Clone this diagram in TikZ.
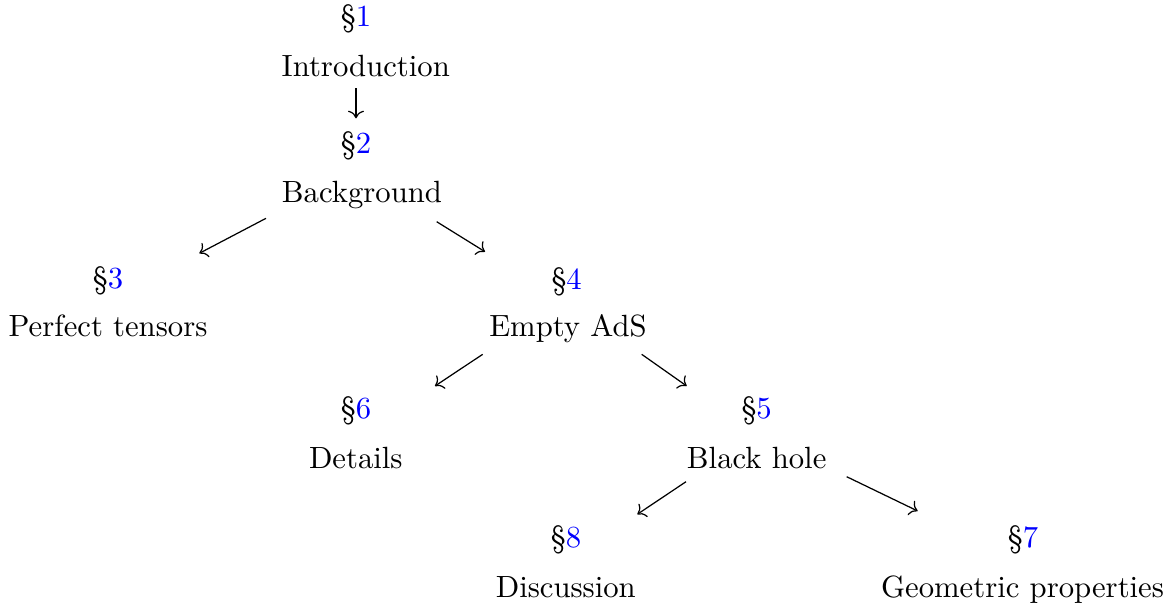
\documentclass[tikz,border=0pt]{standalone}
\usetikzlibrary{cd}
\begin{document}
\begin{tikzpicture}[x=0.3257pt,y=-0.3257pt,
  lbl/.style={anchor=base,inner sep=0pt},
  ttl/.style={anchor=base,inner sep=0pt},
  arr/.style={-cm to,line width=0.4pt}]
\useasboundingbox (0,0) rectangle (1175,604);
% section labels
\node[lbl] (s1) at (356,26) {\S\textcolor{blue}{1}};
\node[lbl] (s2) at (356,153) {\S\textcolor{blue}{2}};
\node[lbl] (s3) at (108,288.5) {\S\textcolor{blue}{3}};
\node[lbl] (s4) at (566.7,289) {\S\textcolor{blue}{4}};
\node[lbl] (s6) at (356,418.3) {\S\textcolor{blue}{6}};
\node[lbl] (s5) at (756.7,418.7) {\S\textcolor{blue}{5}};
\node[lbl] (s8) at (566,547) {\S\textcolor{blue}{8}};
\node[lbl] (s7) at (1023,547) {\S\textcolor{blue}{7}};
% titles
\node[ttl] (t1) at (365.8,76) {Introduction};
\node[ttl] (t2) at (362,202) {Background};
\node[ttl] (t3) at (108,336.5) {Perfect tensors};
\node[ttl] (t4) at (568,336.3) {Empty AdS};
\node[ttl] (t6) at (355.8,468) {Details};
\node[ttl] (t5) at (756.7,468) {Black hole};
\node[ttl] (t8) at (565.8,597) {Discussion};
\node[ttl] (t7) at (1022.5,597) {Geometric properties};
% arrows
\draw[arr] ([shift={(-9.8,12.3)}]t1.base) -- ([shift={(0,-34.7)}]s2.base);
\draw[arr] ([shift={(-96,16.3)}]t2.base) -- ([shift={(91.3,-35.2)}]s3.base);
\draw[arr] ([shift={(74.7,19.7)}]t2.base) -- ([shift={(-81.7,-37.3)}]s4.base);
\draw[arr] ([shift={(-85.3,18)}]t4.base) -- ([shift={(79,-32.3)}]s6.base);
\draw[arr] ([shift={(73.7,18)}]t4.base) -- ([shift={(-70,-32.7)}]s5.base);
\draw[arr] ([shift={(-70.7,13.7)}]t5.base) -- ([shift={(71.3,-32.7)}]s8.base);
\draw[arr] ([shift={(90,8.7)}]t5.base) -- ([shift={(-105.3,-36)}]s7.base);
\end{tikzpicture}
\end{document}
